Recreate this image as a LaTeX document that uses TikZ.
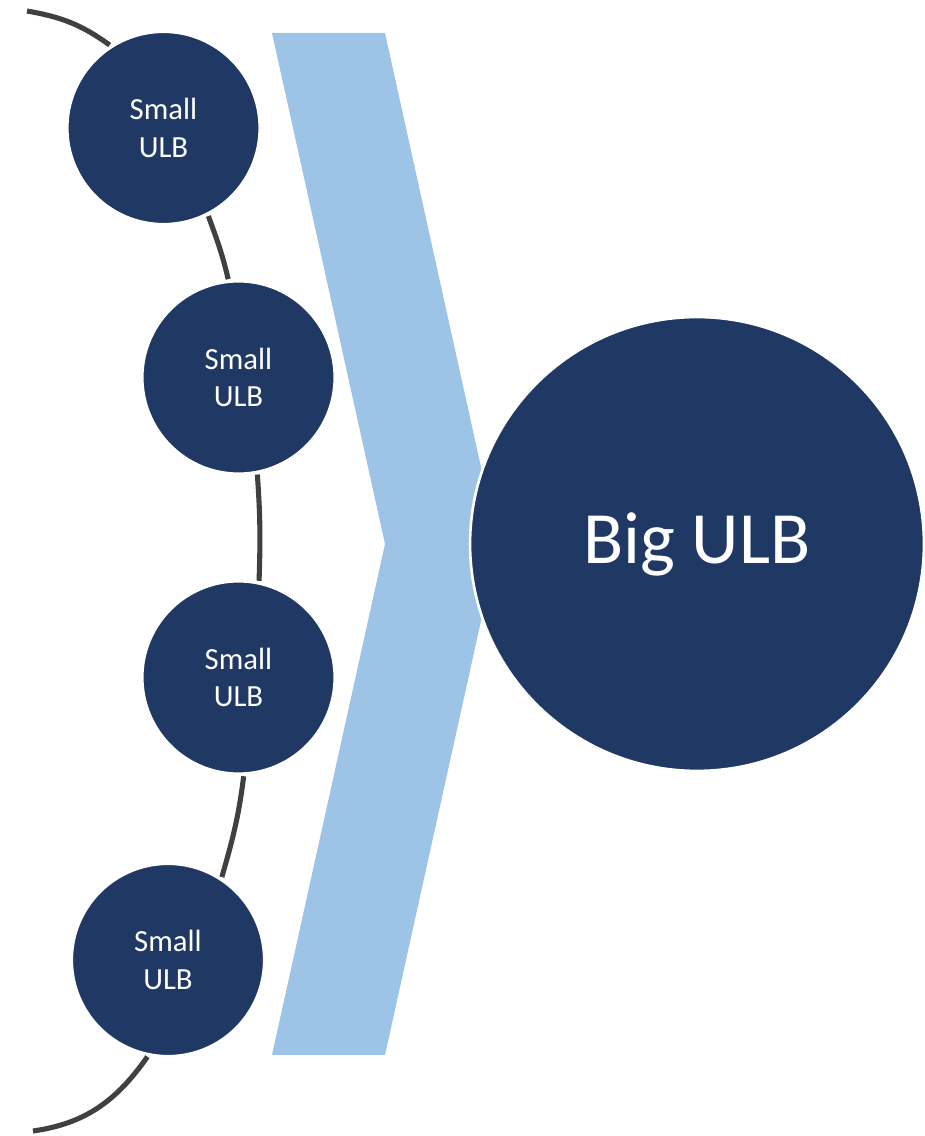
\documentclass[tikz,border=0pt]{standalone}
\usepackage{fontspec}
\setmainfont{Carlito}
\usepackage{xcolor}
\usepackage{tikz}
\usetikzlibrary{shapes,arrows,positioning,calc,backgrounds}

\definecolor{ulbblue}{HTML}{203864}
\definecolor{chevblue}{HTML}{9DC3E6}
\definecolor{arcgray}{HTML}{404040}

\tikzset{
    ulb/.style={circle, fill=ulbblue, draw=white, line width=1.5pt, text=white, align=center, outer sep=1.5pt},
    smallulb/.style={ulb, minimum size=3.85cm, font=\fontsize{17.5}{21.5}\selectfont},
    bigulb/.style={ulb, minimum size=9.08cm, font=\fontsize{42}{50}\selectfont},
    ring/.style={draw=arcgray, line width=2.9pt}
}

\begin{document}
\begin{tikzpicture}[x=0.02cm, y=0.02cm]
    \useasboundingbox (0,0) rectangle (925,1136);
    \node[smallulb] (s1) at (163.5,1008) {Small\\ULB};
    \node[smallulb] (s2) at (238.5,758.5) {Small\\ULB};
    \node[smallulb] (s3) at (238.5,458.5) {Small\\ULB};
    \node[smallulb] (s4) at (168,176) {Small\\ULB};
    \node[bigulb] (big) at (697,592) {Big ULB};
    \coordinate (top) at (27,1125);
    \coordinate (bot) at (33,5);
    \begin{scope}[on background layer]
        \fill[chevblue] (272,1103) -- (385,1103) -- (498,592) -- (385,81) -- (272,81) -- (385,592) -- cycle;
        \draw[ring] (top) to[out=-10, in=144] (s1.123);
        \draw[ring] (s1.-63) to[out=-70, in=103] (s2.96);
        \draw[ring] (s2.-79) to[out=-86, in=88] (s3.78);
        \draw[ring] (s3.-87) to[out=-97, in=74] (s4.57);
        \draw[ring] (s4.-102) to[out=-125, in=8] (bot);
    \end{scope}
\end{tikzpicture}
\end{document}
